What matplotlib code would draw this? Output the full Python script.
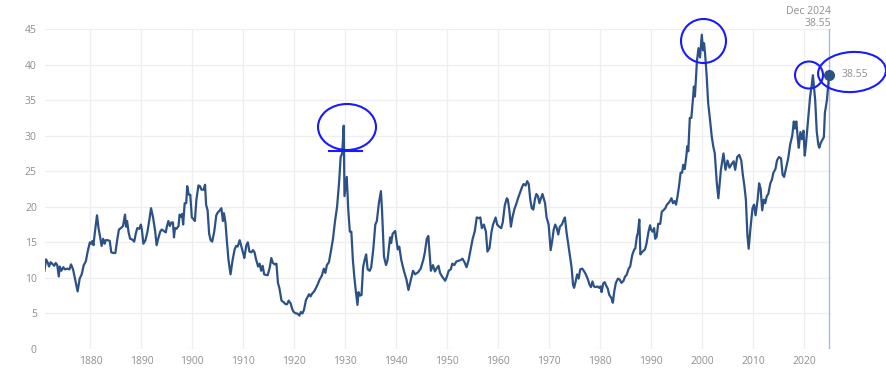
import matplotlib
matplotlib.use("Agg")
import matplotlib.pyplot as plt
from matplotlib.patches import Ellipse
from matplotlib.transforms import IdentityTransform

# ---- data (decimal year, Shiller CAPE) ----
years = [
 1871.0,1871.3,1871.6,1871.9,1872.2,1872.5,1872.9,1873.2,1873.5,1873.8,1874.0,1874.3,1874.7,
 1875.0,1875.5,1875.9,1876.2,1876.6,1877.0,1877.5,1877.9,1878.3,1878.7,1879.1,1879.5,1879.9,
 1880.2,1880.4,1880.6,1880.9,1881.3,1881.6,1881.9,1882.2,1882.5,1882.8,1883.0,1883.4,1883.8,
 1884.1,1884.5,1884.9,1885.3,1885.6,1886.0,1886.4,1886.8,1887.0,1887.2,1887.5,1887.8,1888.2,
 1888.6,1888.9,1889.2,1889.6,1889.9,1890.1,1890.4,1890.8,1891.2,1891.6,1891.9,1892.3,1892.7,
 1893.0,1893.3,1893.7,1894.0,1894.4,1894.8,1895.0,1895.3,1895.6,1895.9,1896.2,1896.4,1896.6,
 1896.9,1897.3,1897.5,1897.8,1898.0,1898.2,1898.5,1898.8,1899.0,1899.3,1899.6,1899.9,1900.2,
 1900.5,1900.8,1901.2,1901.5,1901.8,1902.2,1902.5,1902.7,1903.0,1903.3,1903.6,1903.9,1904.3,
 1904.7,1905.0,1905.4,1905.7,1906.0,1906.2,1906.5,1906.8,1907.1,1907.5,1907.9,1908.3,1908.6,
 1908.9,1909.3,1909.6,1910.0,1910.2,1910.6,1910.9,1911.2,1911.6,1911.9,1912.2,1912.5,1912.9,
 1913.2,1913.5,1913.8,1914.1,1914.5,1914.8,1915.2,1915.5,1915.8,1916.2,1916.5,1916.8,1917.1,
 1917.5,1917.9,1918.3,1918.6,1918.9,1919.3,1919.6,1919.9,1920.3,1920.6,1921.0,1921.3,1921.6,
 1921.9,1922.3,1922.6,1922.9,1923.2,1923.5,1923.9,1924.2,1924.6,1925.0,1925.4,1925.8,1926.1,
 1926.4,1926.8,1927.2,1927.6,1928.0,1928.4,1928.8,1929.1,1929.4,1929.7,1929.85,1930.1,1930.3,
 1930.6,1930.9,1931.2,1931.5,1931.8,1932.1,1932.4,1932.6,1932.9,1933.2,1933.5,1933.8,1934.1,
 1934.4,1934.8,1935.1,1935.5,1935.9,1936.2,1936.6,1937.0,1937.2,1937.6,1938.0,1938.3,1938.8,
 1939.0,1939.3,1939.8,1940.3,1940.6,1941.0,1941.5,1942.0,1942.4,1942.8,1943.3,1943.7,1944.3,
 1944.8,1945.3,1945.6,1946.0,1946.3,1946.6,1946.8,1947.2,1947.6,1947.9,1948.3,1948.6,1949.0,
 1949.6,1949.9,1950.3,1950.7,1951.0,1951.4,1951.8,1952.2,1952.6,1953.0,1953.4,1953.8,1954.2,
 1954.6,1955.0,1955.4,1955.8,1956.2,1956.5,1956.8,1957.2,1957.6,1957.9,1958.3,1958.7,1959.0,
 1959.5,1959.8,1960.2,1960.6,1960.9,1961.3,1961.7,1961.9,1962.2,1962.5,1962.8,1963.2,1963.6,
 1963.9,1964.3,1964.7,1965.0,1965.4,1965.7,1966.0,1966.3,1966.6,1966.9,1967.2,1967.5,1967.8,
 1968.1,1968.4,1968.7,1968.9,1969.2,1969.5,1969.9,1970.3,1970.6,1970.9,1971.2,1971.5,1971.8,
 1972.1,1972.5,1972.9,1973.1,1973.4,1973.7,1974.0,1974.4,1974.7,1974.9,1975.2,1975.5,1975.8,
 1976.1,1976.5,1976.8,1977.2,1977.6,1977.9,1978.2,1978.5,1978.8,1979.1,1979.5,1979.8,1980.1,
 1980.3,1980.6,1980.9,1981.2,1981.5,1981.8,1982.2,1982.5,1982.8,1983.1,1983.5,1983.8,1984.2,
 1984.6,1984.9,1985.2,1985.6,1985.9,1986.3,1986.7,1986.9,1987.2,1987.4,1987.7,1987.9,1988.2,
 1988.5,1988.8,1989.1,1989.5,1989.8,1990.0,1990.3,1990.6,1990.8,1991.1,1991.4,1991.8,1992.1,
 1992.4,1992.8,1993.1,1993.4,1993.7,1994.0,1994.3,1994.6,1994.9,1995.2,1995.5,1995.8,1996.1,
 1996.3,1996.6,1996.9,1997.1,1997.3,1997.6,1997.9,1998.2,1998.4,1998.6,1998.8,1999.0,1999.3,
 1999.6,1999.95,2000.2,2000.4,2000.6,2000.9,2001.2,2001.6,2001.9,2002.2,2002.5,2002.9,2003.2,
 2003.7,2004.2,2004.6,2005.0,2005.4,2005.8,2006.2,2006.5,2006.9,2007.3,2007.7,2008.0,2008.3,
 2008.6,2008.9,2009.15,2009.5,2009.9,2010.2,2010.5,2010.9,2011.2,2011.5,2011.8,2012.1,2012.4,
 2012.7,2013.0,2013.4,2013.7,2014.0,2014.4,2014.7,2015.1,2015.5,2015.8,2016.1,2016.5,2016.9,
 2017.3,2017.7,2018.0,2018.2,2018.5,2018.8,2018.98,2019.3,2019.6,2019.9,2020.15,2020.35,2020.6,
 2020.9,2021.2,2021.5,2021.75,2022.0,2022.2,2022.5,2022.8,2023.0,2023.3,2023.6,2023.9,2024.1,
 2024.5,2024.92,
]
cape = [
 11.0,12.6,12.2,11.6,12.2,12.0,11.7,12.1,11.8,10.2,11.6,11.0,11.5,
 11.2,11.3,11.2,11.9,11.2,9.8,8.1,9.9,10.5,11.8,12.3,13.8,15.0,
 14.8,15.2,14.6,16.5,18.8,17.0,15.8,14.5,15.5,14.8,15.3,15.3,15.2,
 13.6,13.5,13.5,15.5,16.8,17.0,17.3,18.9,17.2,18.0,16.4,15.5,15.4,
 15.1,16.2,17.0,16.9,17.5,16.8,14.8,15.3,16.5,18.3,19.8,18.5,16.6,
 14.6,15.5,16.5,16.8,16.6,16.4,17.2,18.0,17.3,17.8,17.8,15.7,17.0,
 16.9,17.3,18.9,18.6,19.0,17.5,20.5,20.5,22.9,21.7,21.7,18.5,18.3,
 18.0,21.0,23.0,22.9,22.4,22.4,23.1,20.3,19.5,16.2,15.3,15.1,16.5,
 18.8,19.2,19.5,19.8,18.0,19.1,17.8,15.0,12.5,10.5,12.5,14.0,14.5,
 14.4,15.3,14.5,13.4,12.8,14.6,15.0,13.7,13.6,13.9,13.6,12.6,11.6,
 12.0,11.0,11.7,10.5,10.4,10.4,11.5,12.8,12.1,11.9,12.0,9.3,8.5,
 6.8,6.6,6.3,6.3,6.8,6.4,5.6,5.2,5.0,5.0,4.7,5.2,5.0,
 5.5,6.9,7.3,7.7,7.4,7.8,8.1,8.5,9.1,9.8,10.3,11.3,10.7,
 11.8,12.2,13.8,15.5,18.0,20.0,23.5,27.0,27.5,31.4,21.5,23.0,24.2,
 19.5,16.5,16.5,12.5,10.0,8.0,6.2,8.0,7.5,7.6,11.5,12.5,13.3,
 11.2,11.0,11.5,14.0,17.5,18.0,20.5,22.2,19.8,13.0,11.8,12.5,15.7,
 14.9,16.2,16.6,14.0,14.4,12.5,11.0,9.8,8.3,9.5,11.0,10.5,10.8,
 11.3,12.5,13.5,15.5,15.9,13.0,11.0,11.8,10.9,11.3,11.7,10.7,10.2,
 9.6,10.1,11.0,11.2,12.0,11.8,12.3,12.4,12.5,12.7,12.2,11.5,12.5,
 14.0,15.5,16.5,18.5,18.4,18.5,17.0,17.5,16.5,13.7,14.2,16.5,17.5,
 18.5,17.5,17.2,17.0,17.8,20.2,21.2,21.0,19.5,17.2,18.5,19.7,20.5,
 21.2,22.0,22.8,23.2,23.0,23.6,23.2,21.0,19.8,19.6,21.0,21.8,21.5,
 20.5,21.2,21.8,21.3,20.5,18.5,17.5,13.9,15.2,16.8,17.5,17.0,16.1,
 17.2,17.5,18.2,18.5,16.5,15.0,13.5,11.5,9.0,8.6,9.5,10.5,9.9,
 11.2,11.3,11.0,10.5,9.8,9.1,8.7,9.5,8.8,8.7,8.8,8.6,8.8,
 8.0,9.2,9.4,8.9,8.5,7.6,7.2,6.5,8.2,9.3,9.9,9.8,9.3,
 9.6,10.2,10.4,11.3,11.6,13.2,14.0,14.1,15.8,16.3,18.2,13.3,13.6,
 13.8,14.0,14.8,16.5,17.4,16.8,16.5,17.0,15.5,15.8,17.6,17.6,19.3,
 19.5,19.8,20.3,20.5,20.8,21.2,20.5,20.8,20.3,21.5,23.0,24.8,24.8,
 25.9,25.3,27.0,28.5,27.8,32.5,32.5,35.0,36.9,35.5,38.0,40.5,42.3,
 41.0,44.2,42.0,43.0,41.5,38.5,34.6,32.0,29.9,28.5,27.5,23.3,21.2,
 25.2,27.5,25.2,26.5,25.5,26.0,26.4,25.2,27.0,27.3,26.5,24.5,23.0,
 21.0,16.0,14.1,17.0,19.8,20.3,18.8,21.0,23.3,22.5,19.5,21.0,20.5,
 21.5,21.8,23.3,23.8,24.8,25.3,26.5,27.0,26.8,24.5,24.2,25.5,26.8,
 28.8,30.0,32.0,31.0,32.0,29.5,28.3,30.5,29.5,30.7,27.2,28.5,30.5,
 33.0,35.5,37.0,38.5,36.5,35.0,30.6,28.8,28.3,29.0,29.4,29.8,33.2,
 35.0,38.55,
]
xticks = [1880, 1890, 1900, 1910, 1920, 1930, 1940, 1950, 1960, 1970, 1980, 1990, 2000, 2010, 2020]
yticks = [0, 5, 10, 15, 20, 25, 30, 35, 40, 45]
last_label = "Dec 2024"
last_value = 38.55

W, H = 886, 369
fig = plt.figure(figsize=(W / 100, H / 100), dpi=100)
fig.patch.set_facecolor("white")
ax = fig.add_axes([44.5 / W, (H - 349) / H, (831 - 44.5) / W, (349 - 29) / H])

line_color = "#2c5187"
grey = "#8f8f8f"
ax.plot(years, cape, color=line_color, lw=1.6, solid_joinstyle="round", zorder=3)

ax.set_xlim(1871, 2025.3)
ax.set_ylim(0, 45)
ax.set_xticks(xticks)
ax.set_yticks(yticks)
ax.grid(True, color="#eeeeee", lw=0.9)
ax.set_axisbelow(True)
for s in ax.spines.values():
    s.set_visible(False)
ax.tick_params(length=0, labelsize=7.5, labelcolor=grey)
ax.tick_params(axis="x", pad=5)
ax.tick_params(axis="y", pad=5.5)
for lab in ax.get_xticklabels() + ax.get_yticklabels():
    lab.set_family("Open Sans")

# last point marker and crosshair
ax.axvline(years[-1], color="#a9bbd8", lw=1.0, zorder=2)
ax.plot([years[-1]], [last_value], "o", color=line_color, ms=7, zorder=4, clip_on=False)
ax.annotate(f"{last_value:.2f}", (years[-1], last_value), xytext=(9, 0),
            textcoords="offset points", va="center", ha="left",
            fontsize=7.5, color=grey, family="Open Sans", annotation_clip=False)
fig.text(831 / W, 1 - 11 / H, last_label, ha="right", va="center",
         fontsize=7.5, color=grey, family="Open Sans")
fig.text(831 / W, 1 - 23 / H, f"{last_value:.2f}", ha="right", va="center",
         fontsize=7.5, color=grey, family="Open Sans")

# hand-drawn style highlight circles (pixel coordinates of the figure)
def circle(cx, cy, w, h, ang=0):
    e = Ellipse((cx, H - cy), w, h, angle=ang, fill=False, edgecolor="#1a1aff",
                lw=1.5, transform=IdentityTransform())
    fig.add_artist(e)

circle(347, 127, 58, 46)
ax.plot([], [])
fig.add_artist(plt.Line2D([329, 362], [H - 151, H - 151], color="#1a1aff", lw=1.5,
                          transform=IdentityTransform()))
circle(703.5, 41, 45, 44)
circle(809, 75, 28, 27)
circle(852, 72, 68, 40, ang=4)

fig.savefig("out.png", dpi=100, facecolor="white")
